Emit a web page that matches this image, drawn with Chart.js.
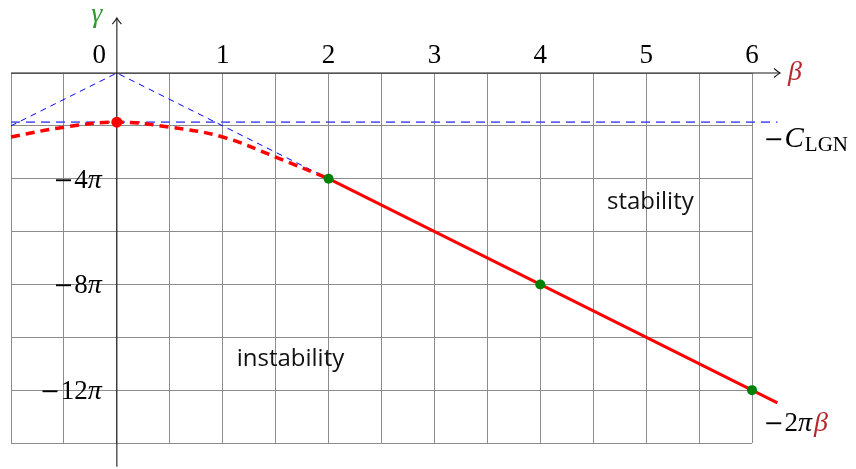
<!DOCTYPE html>
<html>
<head>
<meta charset="utf-8">
<script src="https://cdn.jsdelivr.net/npm/chart.js@4/dist/chart.umd.min.js"></script>
<style>
  html, body { margin: 0; padding: 0; background: #fff; }
  canvas { display: block; }
</style>
</head>
<body>
<canvas id="myChart" width="856" height="469"></canvas>
<script>
// gamma values are given in units of pi
const xTickValues = [0, 1, 2, 3, 4, 5, 6];
const yTickValues = [-4, -8, -12];
// listed from the far end so the point past beta = 6 is not cut off
const lineBeta = [6.24, 6, 4, 2];
const lineGamma = [-12.48, -12, -8, -4];
const curveBeta = [-1, -0.5, 0, 0.5, 1, 1.5, 2];
const curveGamma = [-2.42, -2.05, -1.86, -2.05, -2.42, -3.18, -4];
const tangentBeta = [-1, 0, 2];
const tangentGamma = [-2, 0, -4];
const cLgnBeta = [-1, 6.24];
const cLgnGamma = [-1.86, -1.86];
const dotBeta = [2, 4, 6];
const dotGamma = [-4, -8, -12];
const peakBeta = [0];
const peakGamma = [-1.86];
const regionLabels = ['stability', 'instability'];
const regionBeta = [5.04, 1.64];
const regionGamma = [-4.85, -10.8];

const SERIF = '"Liberation Serif", "Times New Roman", serif';
const MINUS = '24px "DejaVu Serif", serif';
const SANS = '"Open Sans", "DejaVu Sans", sans-serif';

function toPoints(xs, ys) {
    return xs.map((x, i) => ({x: x, y: ys[i]}));
}

// draws a run of text pieces, each with own font/colour
function drawPieces(ctx, pieces, x, y, align) {
    let total = 0;
    for (const p of pieces) {
        if (p.gap) { total += p.gap; continue; }
        ctx.font = p.font;
        total += ctx.measureText(p.t).width;
    }
    let cx = x;
    if (align === 'right') cx = x - total;
    if (align === 'center') cx = x - total / 2;
    ctx.textAlign = 'left';
    ctx.textBaseline = 'alphabetic';
    for (const p of pieces) {
        if (p.gap) { cx += p.gap; continue; }
        ctx.font = p.font;
        ctx.fillStyle = p.color || '#000';
        ctx.fillText(p.t, cx, y + (p.dy || 0));
        cx += ctx.measureText(p.t).width;
    }
}

function arrowHead(ctx, tx, ty, dir) {
    // dir: 'right' or 'up', tikz-like thin barbs
    ctx.beginPath();
    if (dir === 'right') {
        ctx.moveTo(tx - 6, ty - 4.5);
        ctx.quadraticCurveTo(tx - 2, ty - 1, tx, ty);
        ctx.quadraticCurveTo(tx - 2, ty + 1, tx - 6, ty + 4.5);
    } else {
        ctx.moveTo(tx - 4.5, ty + 6);
        ctx.quadraticCurveTo(tx - 1, ty + 2, tx, ty);
        ctx.quadraticCurveTo(tx + 1, ty + 2, tx + 4.5, ty + 6);
    }
    ctx.stroke();
}

const axesPlugin = {
    id: 'axes',
    beforeDatasetsDraw(chart) {
        const {ctx, scales: {x, y}} = chart;
        const x0 = x.getPixelForValue(0);
        const y0 = y.getPixelForValue(0);
        ctx.save();
        ctx.strokeStyle = '#1a1a1a';
        ctx.lineWidth = 1.1;
        // beta axis
        const xl = x.getPixelForValue(-1);
        const xr = x.getPixelForValue(6.265);
        ctx.beginPath();
        ctx.moveTo(xl, y0);
        ctx.lineTo(xr, y0);
        ctx.stroke();
        arrowHead(ctx, xr, y0, 'right');
        // gamma axis
        const yb = y.getPixelForValue(-14.9);
        const yt = y.getPixelForValue(2.08);
        ctx.beginPath();
        ctx.moveTo(x0, yb);
        ctx.lineTo(x0, yt);
        ctx.stroke();
        arrowHead(ctx, x0, yt, 'up');
        ctx.restore();
    },
    afterDraw(chart) {
        const {ctx, scales: {x, y}} = chart;
        const x0 = x.getPixelForValue(0);
        const y0 = y.getPixelForValue(0);
        ctx.save();
        const num = '27px ' + SERIF;
        const ital = 'italic 28px ' + SERIF;

        for (const v of xTickValues) {
            const px = v === 0 ? x0 - 17.5 : x.getPixelForValue(v);
            drawPieces(ctx, [{t: String(v), font: num}], px, y0 - 10, 'center');
        }
        for (const v of yTickValues) {
            drawPieces(ctx, [
                {t: '\u2212', font: MINUS}, {gap: 1},
                {t: String(-v), font: num},
                {t: '\u03c0', font: ital}
            ], x0 - 15, y.getPixelForValue(v) + 9, 'right');
        }

        // axis names
        drawPieces(ctx, [{t: '\u03b2', font: ital, color: '#b5282e'}], x.getPixelForValue(6.265) + 8, y0 + 7, 'left');
        drawPieces(ctx, [{t: '\u03b3', font: ital, color: '#2e9a2e'}], x0 - 20, y.getPixelForValue(2.08) + 4, 'center');

        // -C_LGN
        const cx = x.getPixelForValue(cLgnBeta[1]);
        const cy = y.getPixelForValue(cLgnGamma[1]);
        drawPieces(ctx, [
            {t: '\u2212', font: MINUS}, {gap: 1},
            {t: 'C', font: 'italic 29px ' + SERIF}, {gap: 1},
            {t: 'LGN', font: '21px ' + SERIF, dy: 4}
        ], cx - 14, cy + 25, 'left');

        // -2 pi beta
        const lx = x.getPixelForValue(lineBeta[0]);
        const ly = y.getPixelForValue(lineGamma[0]);
        drawPieces(ctx, [
            {t: '\u2212', font: MINUS}, {gap: 1},
            {t: '2', font: num},
            {t: '\u03c0', font: ital}, {gap: 2},
            {t: '\u03b2', font: ital, color: '#b5282e'}
        ], lx - 14, ly + 28, 'left');

        // region names
        for (let i = 0; i < regionLabels.length; i++) {
            drawPieces(ctx, [{t: regionLabels[i], font: '24px ' + SANS, color: '#111'}],
                x.getPixelForValue(regionBeta[i]), y.getPixelForValue(regionGamma[i]) + 8, 'center');
        }
        ctx.restore();
    }
};

const ctx = document.getElementById('myChart');
new Chart(ctx, {
    type: 'scatter',
    data: {
        datasets: [
            {
                data: toPoints(peakBeta, peakGamma),
                pointRadius: 5.5,
                pointBackgroundColor: '#ff0000',
                pointBorderWidth: 0,
                showLine: false,
                clip: false
            },
            {
                data: toPoints(dotBeta, dotGamma),
                pointRadius: 5,
                pointBackgroundColor: '#008000',
                pointBorderWidth: 0,
                showLine: false,
                clip: false
            },
            {
                data: toPoints(lineBeta, lineGamma),
                showLine: true,
                borderColor: '#ff0000',
                borderWidth: 3,
                pointRadius: 0,
                clip: false
            },
            {
                data: toPoints(curveBeta, curveGamma),
                showLine: true,
                borderColor: '#ff0000',
                borderWidth: 3.5,
                borderDash: [9, 6],
                tension: 0.4,
                pointRadius: 0,
                clip: false
            },
            {
                data: toPoints(cLgnBeta, cLgnGamma),
                showLine: true,
                borderColor: 'rgba(70, 70, 255, 0.85)',
                borderWidth: 1.6,
                borderDash: [9, 6],
                pointRadius: 0,
                clip: false
            },
            {
                data: toPoints(tangentBeta, tangentGamma),
                showLine: true,
                borderColor: '#0000ff',
                borderWidth: 1,
                borderDash: [6, 5],
                pointRadius: 0,
                clip: false
            }
        ]
    },
    options: {
        responsive: false,
        animation: false,
        events: [],
        layout: {padding: {left: 11, right: 104, top: 73, bottom: 26}},
        plugins: {legend: {display: false}, tooltip: {enabled: false}},
        scales: {
            x: {
                type: 'linear',
                min: -1,
                max: 6,
                ticks: {display: false, stepSize: 0.5},
                grid: {color: '#8c8c8c', lineWidth: 1, drawTicks: false},
                border: {display: false}
            },
            y: {
                type: 'linear',
                min: -14,
                max: 0,
                ticks: {display: false, stepSize: 2},
                grid: {color: '#8c8c8c', lineWidth: 1, drawTicks: false},
                border: {display: false}
            }
        }
    },
    plugins: [axesPlugin]
});
</script>
</body>
</html>
